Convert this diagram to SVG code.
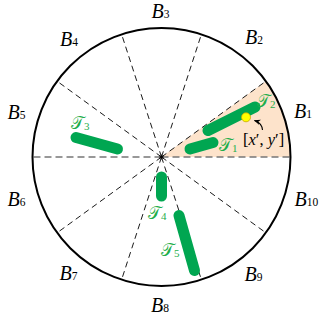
<svg xmlns="http://www.w3.org/2000/svg" width="323" height="320" viewBox="0 0 323 320">
<defs>
<style>
.spoke{stroke:#000;stroke-width:0.9;stroke-dasharray:6 4;fill:none}
.axis{stroke:#777;stroke-width:1.4;stroke-dasharray:7 4;fill:none}
.bar{stroke:#00a651;stroke-width:11;stroke-linecap:round;fill:none}
.b{font-family:"Liberation Serif",serif;font-style:italic;font-size:20px;fill:#000}
.sub{font-style:normal;font-size:11.5px}
.t{font-family:"DejaVu Serif","Liberation Serif",serif;font-size:17px;fill:#1fae4b}
.tsub{font-family:"Liberation Serif",serif;font-size:11px}
</style>
<marker id="ah" viewBox="0 0 10 10" refX="9" refY="5" markerWidth="6" markerHeight="6" orient="auto">
<path d="M0,1 L10,5 L0,9 L3,5 Z" fill="#000"/>
</marker>
</defs>
<rect width="323" height="320" fill="#fff"/>
<path id="sector" d="M161.5,157 L290.5,157 A129,129 0 0 0 265.9,81.2 Z" fill="#fde3cb"/>
<g id="connectors">
<line class="axis" x1="161.5" y1="157" x2="290.5" y2="157"/>
<line class="axis" x1="161.5" y1="157" x2="32.5" y2="157"/>
<line class="spoke" x1="161.5" y1="157" x2="265.9" y2="81.2"/>
<line class="spoke" x1="161.5" y1="157" x2="201.4" y2="34.3"/>
<line class="spoke" x1="161.5" y1="157" x2="121.6" y2="34.3"/>
<line class="spoke" x1="161.5" y1="157" x2="57.1" y2="81.2"/>
<line class="spoke" x1="161.5" y1="157" x2="57.1" y2="232.8"/>
<line class="spoke" x1="161.5" y1="157" x2="121.6" y2="279.7"/>
<line class="spoke" x1="161.5" y1="157" x2="201.4" y2="279.7"/>
<line class="spoke" x1="161.5" y1="157" x2="265.9" y2="232.8"/>
<path d="M262.5,130 Q262,123 254.5,120.5" stroke="#000" stroke-width="1.1" fill="none" marker-end="url(#ah)"/>
</g>
<circle id="boundary" cx="161.5" cy="157" r="129" fill="none" stroke="#000" stroke-width="2"/>
<g id="center" stroke="#000" stroke-width="0.8">
<line x1="159" y1="157" x2="164" y2="157"/>
<line x1="161.5" y1="154.5" x2="161.5" y2="159.5"/>
<line x1="159.8" y1="155.3" x2="163.2" y2="158.7"/>
<line x1="163.2" y1="155.3" x2="159.8" y2="158.7"/>
</g>
<g id="T1"><line class="bar" x1="190" y1="149" x2="213" y2="142.5"/><text class="t" x="219" y="151">𝒯<tspan class="tsub" dy="1">1</tspan></text></g>
<g id="T2"><line class="bar" x1="208" y1="130.5" x2="255" y2="107"/><text class="t" x="257" y="107">𝒯<tspan class="tsub" dy="1">2</tspan></text></g>
<g id="T3"><line class="bar" x1="76" y1="137.5" x2="117.5" y2="149"/><text class="t" x="71" y="129">𝒯<tspan class="tsub" dy="1">3</tspan></text></g>
<g id="T4"><line class="bar" x1="161.5" y1="177" x2="161.5" y2="196"/><text class="t" x="148" y="219">𝒯<tspan class="tsub" dy="1">4</tspan></text></g>
<g id="T5"><line class="bar" x1="179" y1="215.5" x2="194.5" y2="270.5"/><text class="t" x="161" y="256">𝒯<tspan class="tsub" dy="1">5</tspan></text></g>
<g id="point">
<circle cx="246" cy="117.3" r="4.5" fill="#ffff00" stroke="#c9a800" stroke-width="0.8"/>
<text x="243" y="145" font-family="Liberation Serif,serif" font-size="16.5px">[<tspan font-style="italic">x</tspan>′, <tspan font-style="italic">y</tspan>′]</text>
</g>
<g id="labels">
<text class="b" x="294" y="118">B<tspan class="sub">1</tspan></text>
<text class="b" x="245" y="43.5">B<tspan class="sub">2</tspan></text>
<text class="b" x="151.5" y="18">B<tspan class="sub">3</tspan></text>
<text class="b" x="60" y="45.5">B<tspan class="sub">4</tspan></text>
<text class="b" x="7.5" y="118.5">B<tspan class="sub">5</tspan></text>
<text class="b" x="7.5" y="205.5">B<tspan class="sub">6</tspan></text>
<text class="b" x="59.5" y="279.5">B<tspan class="sub">7</tspan></text>
<text class="b" x="151" y="311.5">B<tspan class="sub">8</tspan></text>
<text class="b" x="244.5" y="280.5">B<tspan class="sub">9</tspan></text>
<text class="b" x="294.5" y="205.5">B<tspan class="sub">10</tspan></text>
</g>
</svg>
